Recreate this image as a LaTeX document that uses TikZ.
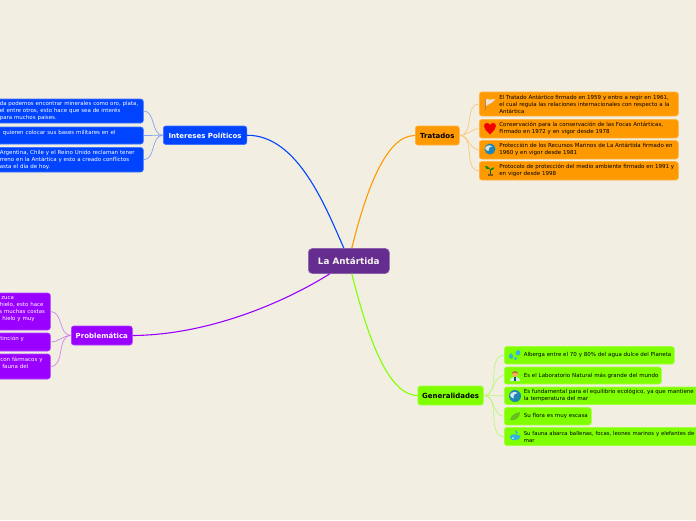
\documentclass[tikz,border=0pt]{standalone}
\usepackage{fontspec}
\setmainfont{DejaVu Sans}
\definecolor{bg}{HTML}{F2EFE2}
\definecolor{cen}{HTML}{662D91}
\definecolor{cblue}{HTML}{0044FF}
\definecolor{cpurple}{HTML}{9900FF}
\definecolor{corange}{HTML}{FF9900}
\definecolor{cgreen}{HTML}{80FF00}
\definecolor{globeblue}{HTML}{1F86B8}
\definecolor{globelight}{HTML}{D5E8E8}
\definecolor{dropblue}{HTML}{2FB4DC}
\definecolor{leafgreen}{HTML}{66BE22}
\tikzset{
  x=1pt,y=-1pt,
  boxbase/.style={rounded corners=2.5pt,inner ysep=0pt,inner xsep=1pt,draw=#1!75!white,fill=#1,line width=.6pt},
  leafbox/.style={boxbase=#1,font=\fontsize{5.5}{7}\selectfont},
  mainbox/.style={boxbase=#1,font=\fontsize{7}{8}\selectfont\bfseries,align=center},
  mainlink/.style={line width=1.1pt,draw=#1},
  sublink/.style={line width=.7pt,draw=#1!45!bg},
}
\newcommand{\leaf}[8]{%
  \pgfmathsetmacro\lfW{#5-(#3)}\pgfmathsetmacro\lfH{#6-(#4)}\pgfmathsetmacro\lfY{(#4+#6)/2}\pgfmathsetmacro\lfT{#5-(#3)-2}\pgfmathsetmacro\lfP{\lfT-(#7)}%
  \node[leafbox=#2,anchor=west,minimum width=\lfW pt,minimum height=\lfH pt,text width=\lfT pt] (#1) at (#3,\lfY) {\hspace*{#7pt}\parbox[c]{\lfP pt}{\raggedright #8}};}
\newcommand{\mainnode}[7]{%
  \pgfmathsetmacro\lfW{#5-(#3)}\pgfmathsetmacro\lfH{#6-(#4)}\pgfmathsetmacro\lfY{(#4+#6)/2}%
  \node[mainbox=#2,anchor=west,minimum width=\lfW pt,minimum height=\lfH pt] (#1) at (#3,\lfY) {#7};}
\begin{document}
\begin{tikzpicture}
\useasboundingbox (0,0) rectangle (696,520);
\clip (0,0) rectangle (696,520);
\fill[bg] (0,0) rectangle (696,520);

% centre
\node[boxbase=cen,rounded corners=4pt,anchor=west,minimum width=81pt,minimum height=25pt,text=bg!60!white,font=\fontsize{8.8}{10}\selectfont\bfseries] (root) at (308,261) {La Antártida};

% main topics
\mainnode{inter}{cblue}{163}{126}{246.5}{144.5}{\textcolor{white}{Intereses Políticos}}
\mainnode{prob}{cpurple}{71}{326}{132}{345}{\textcolor{white}{Problemática}}
\mainnode{trat}{corange}{415}{126}{459}{145}{Tratados}
\mainnode{gen}{cgreen}{417.5}{386}{483}{405}{Generalidades}

% leaves: Intereses
\leaf{ia}{cblue}{-10}{99}{143}{123}{8.5}{\textcolor{white}{da podemos encontrar minerales como oro, plata,\\el entre otros, esto hace que sea de interés\\para muchos países.}}
\leaf{ib}{cblue}{-10}{127}{143}{144}{11.5}{\textcolor{white}{quieren colocar sus bases militares en el\\\mbox{}}}
\leaf{ic}{cblue}{-10}{147.5}{143}{172}{8.5}{\textcolor{white}{Argentina, Chile y el Reino Unido reclaman tener\\rreno en la Antártica y esto a creado conflictos\\asta el día de hoy.}}

% leaves: Problematica
\leaf{pa}{cpurple}{-10}{293}{50}{330}{8}{\textcolor{white}{\hspace*{2pt}zuca\\\hspace*{0.5pt}hielo, esto hace\\s muchas costas\\\hspace*{3pt}hielo y muy\\\mbox{}}}
\leaf{pb}{cpurple}{-10}{333}{50}{351}{9}{\textcolor{white}{tinción y\\\mbox{}}}
\leaf{pc}{cpurple}{-10}{354}{50}{379}{9}{\textcolor{white}{con fármacos y\\\hspace*{2pt}fauna del\\\mbox{}}}

% leaves: Tratados
\leaf{ta}{corange}{479}{92}{678}{116}{19}{El Tratado Antártico firmado en 1959 y entro a regir en 1961,\\el cual regula las relaciones internacionales con respecto a la\\Antártica}
\leaf{tb}{corange}{479}{119.5}{678}{138}{19}{Conservación para la conservación de las Focas Antárticas,\\Firmado en 1972 y en vigor desde 1978}
\leaf{tc}{corange}{479}{140.5}{678}{159}{19}{Protección de los Recursos Marinos de La Antártida firmado en\\1960 y en vigor desde 1981}
\leaf{td}{corange}{479}{161.5}{678}{180}{19}{Protocolo de protección del medio ambiente firmado en 1991 y\\en vigor desde 1998}

% leaves: Generalidades
\leaf{ga}{cgreen}{504}{346.5}{674}{364}{18.5}{Alberga entre el 70 y 80\% del agua dulce del Planeta}
\leaf{gb}{cgreen}{504}{367}{661}{384}{18.5}{Es el Laboratorio Natural más grande del mundo}
\leaf{gc}{cgreen}{504}{387}{720}{404.5}{18.5}{Es fundamental para el equilibrio ecológico, ya que mantiene\\la temperatura del mar}
\leaf{gd}{cgreen}{504}{407.5}{591}{425}{18.5}{Su flora es muy escasa}
\leaf{ge}{cgreen}{504}{427.5}{740}{445.5}{18.5}{\fontsize{5.35}{7}\selectfont Su fauna abarca ballenas, focas, leones marinos y elefantes de\\mar}

% main branches
\draw[mainlink=cblue] (inter.east) .. controls (298,135) and (326,208) .. (root.111);
\draw[mainlink=corange] (trat.west) .. controls (385,135) and (365,195) .. (root.77);
\draw[mainlink=cgreen] (gen.west) .. controls (385,395) and (365,325) .. (root.283);
\draw[mainlink=cpurple] (prob.east) .. controls (205,335) and (280,305) .. (root.214);

% sub branches
\foreach \c in {ia,ib,ic}{\draw[sublink=cblue] (inter.west) to[out=180,in=0] (\c.east);}
\foreach \c in {pa,pb,pc}{\draw[sublink=cpurple] (prob.west) to[out=180,in=0] (\c.east);}
\foreach \c in {ta,tb,tc,td}{\draw[sublink=corange] (trat.east) to[out=0,in=180] (\c.west);}
\foreach \c in {ga,gb,gc,gd,ge}{\draw[sublink=cgreen] (gen.east) to[out=0,in=180] (\c.west);}

% icons: flag
\begin{scope}[shift={(490,103.5)}]
  \fill[brown!50!gray!80!orange] (-5.2,-5) rectangle (-4.2,6);
  \fill[white!85!gray!90!orange] (-4.2,-4.5) .. controls (-1,-3.5) and (2,-4) .. (5.5,-4.5) -- (2,-1) -- (-4.2,2.5) -- cycle;
\end{scope}
% heart
\begin{scope}[shift={(490,128)}]
  \fill[red!95!black] (0,6.5) .. controls (-4,2.5) and (-6,0.5) .. (-6,-2) .. controls (-6,-5.5) and (-1.5,-6) .. (0,-3) .. controls (1.5,-6) and (6,-5.5) .. (6,-2) .. controls (6,0.5) and (4,2.5) .. (0,6.5) -- cycle;
\end{scope}
% globe
\begin{scope}[shift={(490,149)}]
  \fill[globeblue] (0,0) circle (5.5);
  \fill[globelight] (-4.8,-1) .. controls (-3,-4.5) and (1,-4) .. (2,-2.5) .. controls (0,-2.5) and (-2,-1) .. (-1.5,2) .. controls (-3,2) and (-4.5,1) .. (-4.8,-1) -- cycle;
\end{scope}
% plant
\begin{scope}[shift={(490,170)}]
  \fill[brown!70!black] (-2.5,3.5) rectangle (2.5,5.5);
  \draw[green!40!black,line width=.6pt] (0,4) -- (0,-1);
  \fill[green!55!black] (0,-1) .. controls (-1,-4) and (-4,-4) .. (-5,-4) .. controls (-5,-2) and (-3,0) .. (0,-1) -- cycle;
  \fill[green!55!black] (0,0) .. controls (1,-2.5) and (3,-2.5) .. (4.5,-2.5) .. controls (4,-0.5) and (2,0.5) .. (0,0) -- cycle;
\end{scope}
% water drops
\begin{scope}[shift={(515,355)}]
  \fill[dropblue] (-4,1.5) circle (2.2);
  \fill[dropblue] (-4,-2) -- (-5.6,.5) -- (-2.4,.5) -- cycle;
  \fill[dropblue] (3,-2) circle (2.4);
  \fill[dropblue] (3.5,-5.5) -- (1,-2.5) -- (5,-2.5) -- cycle;
  \fill[dropblue] (0.5,3.5) circle (1.6);
\end{scope}
% person
\begin{scope}[shift={(515,375.5)}]
  \fill[white!85!teal] (-5,5.5) .. controls (-5,2) and (-2,1.5) .. (0,1.5) .. controls (2,1.5) and (5,2) .. (5,5.5) -- cycle;
  \fill[orange!60!white!90!brown] (0,-1.5) circle (3);
  \fill[brown!80!black] (-3,-2) .. controls (-3,-5) and (3,-5) .. (3,-2) .. controls (1,-3.5) and (-1,-3.5) .. (-3,-2) -- cycle;
  \fill[teal!70!black] (-.7,1.5) rectangle (.7,5);
\end{scope}
% globe
\begin{scope}[shift={(515,396)}]
  \fill[globeblue] (0,0) circle (6);
  \fill[globelight] (-5,-1) .. controls (-3,-5) and (1,-4.5) .. (2.5,-3) .. controls (0,-3) and (-2,-1) .. (-1.5,2.5) .. controls (-3,2) and (-4.7,1) .. (-5,-1) -- cycle;
\end{scope}
% leaf
\begin{scope}[shift={(515,416)}]
  \fill[leafgreen] (-5,4) .. controls (-4,-1) and (0,-3) .. (5,-4) .. controls (5,1) and (2,5) .. (-5,4) -- cycle;
\end{scope}
% whale / water
\begin{scope}[shift={(515,436)}]
  \fill[dropblue] (-5.5,1) .. controls (-4,-2) and (0,-3) .. (5.5,0) .. controls (6,4) and (-4,7) .. (-5.5,1) -- cycle;
  \fill[dropblue] (1,-2) -- (0,-6) -- (3,-3.5) -- cycle;
  \fill[white!80!cyan] (-2,2) circle (1);
\end{scope}
\end{tikzpicture}
\end{document}
